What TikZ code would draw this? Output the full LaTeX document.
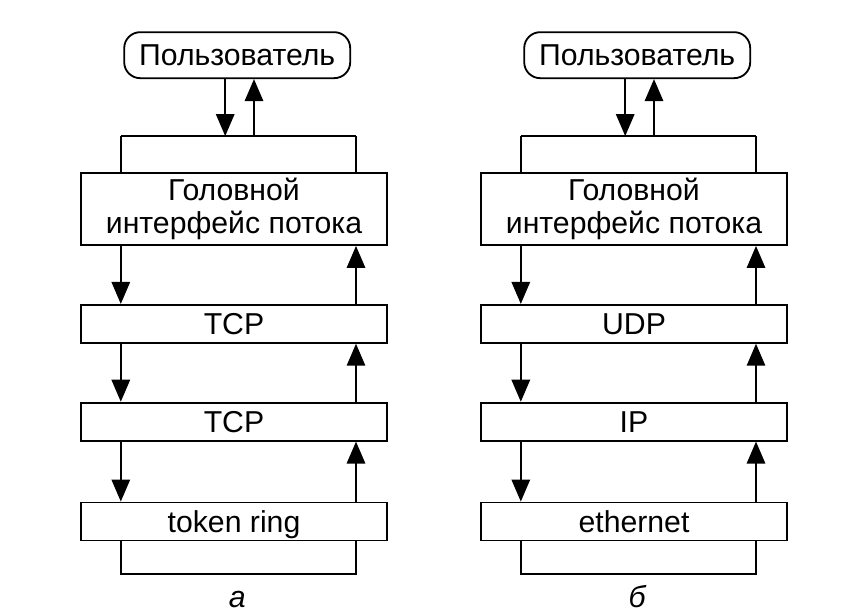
\documentclass[tikz,border=0pt]{standalone}
\usepackage{fontspec}
\setmainfont{Liberation Sans}
\usetikzlibrary{arrows.meta,positioning}

\begin{document}
\begin{tikzpicture}[node distance=1.45cm,>={Triangle[length=0.55cm,width=0.46cm]}, line width=1.3pt,
  every node/.style={font=\fontsize{21.5}{24}\selectfont},
  user/.style={draw,rounded corners=0.4cm,minimum width=5.65cm,minimum height=1.15cm,inner sep=0pt,text height=16pt,text depth=0.6pt},
  head/.style={draw,fill=white,minimum width=7.65cm,minimum height=1.8cm,inner sep=0pt,align=center},
  layer/.style={draw,fill=white,minimum width=7.65cm,minimum height=0.95cm,inner sep=0pt,text height=16pt,text depth=0.6pt},
  sublabel/.style={anchor=base,inner sep=0pt,text depth=0pt,font=\fontsize{21.5}{24}\selectfont\itshape}]
\useasboundingbox (0,0) rectangle (21.2,15.35);
% a
\node[head] (headA) at (5.85,10.125) {Головной\\интерфейс потока};
\node[user,above=2.325cm of headA,xshift=0.08cm] (userA) {Пользователь};
\node[layer,below=of headA] (tcpA) {TCP};
\node[layer,below=of tcpA] (tcpbA) {TCP};
\node[layer,below=1.5cm of tcpbA] (ringA) {token ring};
\coordinate (lA) at ([xshift=-2.83cm]headA.center);
\coordinate (rA) at ([xshift=3.05cm]headA.center);
\coordinate (topA) at ([yshift=0.9cm]headA.north);
\draw (topA -| lA) -- (topA -| rA);
\draw (topA -| lA) -- (headA.north -| lA);
\draw (topA -| rA) -- (headA.north -| rA);
\draw (ringA.south -| lA) |- ([yshift=-0.825cm]ringA.south) -| (ringA.south -| rA);
\draw[->] ([xshift=-0.3cm]userA.south) -- ([xshift=-0.3cm]userA.south |- topA);
\draw[<-] ([xshift=0.42cm]userA.south) -- ([xshift=0.42cm]userA.south |- topA);
\draw[->] (headA.south -| lA) -- (tcpA.north -| lA);
\draw[->] (tcpA.south -| lA) -- (tcpbA.north -| lA);
\draw[->] (tcpbA.south -| lA) -- (ringA.north -| lA);
\draw[->] (ringA.north -| rA) -- (tcpbA.south -| rA);
\draw[->] (tcpbA.north -| rA) -- (tcpA.south -| rA);
\draw[->] (tcpA.north -| rA) -- (headA.south -| rA);
\node[sublabel] (subA) at ([yshift=-1.65cm]ringA.south -| userA) {а};
% b
\node[head] (headB) at (15.85,10.125) {Головной\\интерфейс потока};
\node[user,above=2.325cm of headB,xshift=0.08cm] (userB) {Пользователь};
\node[layer,below=of headB] (udpB) {UDP};
\node[layer,below=of udpB] (ipB) {IP};
\node[layer,below=1.5cm of ipB] (ethB) {ethernet};
\coordinate (lB) at ([xshift=-2.83cm]headB.center);
\coordinate (rB) at ([xshift=3.05cm]headB.center);
\coordinate (topB) at ([yshift=0.9cm]headB.north);
\draw (topB -| lB) -- (topB -| rB);
\draw (topB -| lB) -- (headB.north -| lB);
\draw (topB -| rB) -- (headB.north -| rB);
\draw (ethB.south -| lB) |- ([yshift=-0.825cm]ethB.south) -| (ethB.south -| rB);
\draw[->] ([xshift=-0.3cm]userB.south) -- ([xshift=-0.3cm]userB.south |- topB);
\draw[<-] ([xshift=0.42cm]userB.south) -- ([xshift=0.42cm]userB.south |- topB);
\draw[->] (headB.south -| lB) -- (udpB.north -| lB);
\draw[->] (udpB.south -| lB) -- (ipB.north -| lB);
\draw[->] (ipB.south -| lB) -- (ethB.north -| lB);
\draw[->] (ethB.north -| rB) -- (ipB.south -| rB);
\draw[->] (ipB.north -| rB) -- (udpB.south -| rB);
\draw[->] (udpB.north -| rB) -- (headB.south -| rB);
\node[sublabel] (subB) at ([yshift=-1.65cm]ethB.south -| userB) {б};
\end{tikzpicture}
\end{document}
